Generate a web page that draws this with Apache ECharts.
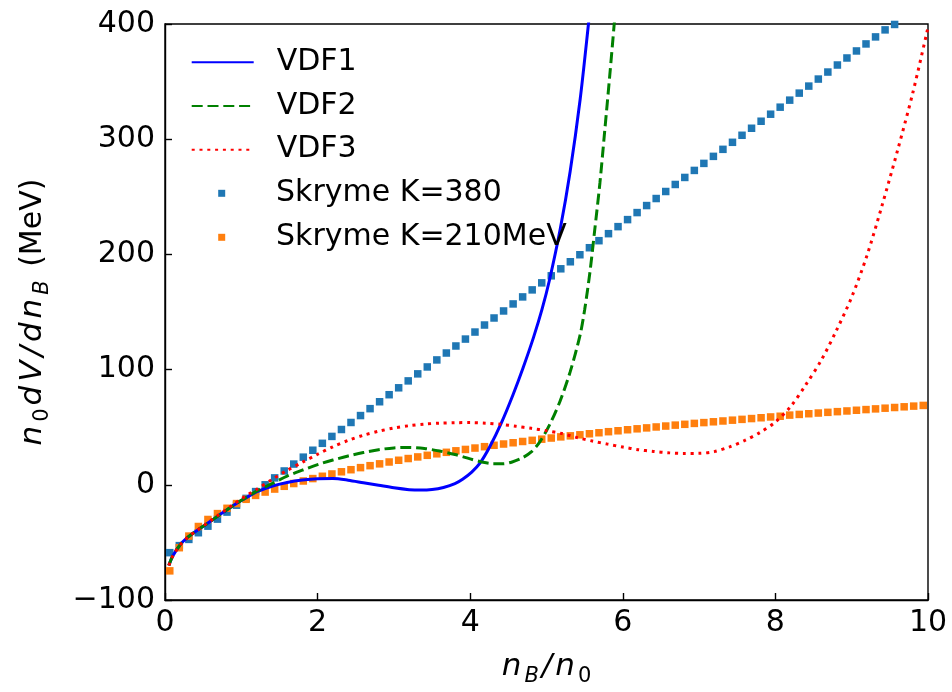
<!DOCTYPE html>
<html>
<head>
<meta charset="utf-8">
<script src="https://cdn.jsdelivr.net/npm/echarts@6/dist/echarts.min.js"></script>
<style>
html,body{margin:0;padding:0;background:#fff;}
#chart{width:952px;height:692px;}
</style>
</head>
<body>
<div id="chart"></div>
<script>
// ---- data ----
var xTicks = [0, 2, 4, 6, 8, 10];
var yTicks = [-100, 0, 100, 200, 300, 400];

var vdf1X = [0.05,0.1,0.2,0.3,0.4,0.5,0.6,0.7,0.8,0.9,1.0,1.1,1.2,1.4,1.6,1.8,2.0,2.2,2.4,2.6,2.8,3.0,3.2,3.35,3.5,3.65,3.8,3.9,4.02,4.13,4.26,4.41,4.56,4.69,4.83,4.94,5.04,5.18,5.31,5.44,5.55,5.6];
var vdf1Y = [-70,-62,-52,-45.5,-40.5,-36,-31.5,-26.8,-22.3,-17.8,-13.7,-9.8,-6.2,-1.3,2,4.2,5.3,5.4,4,1.8,-0.4,-2.6,-4.2,-4.6,-4.1,-2.3,1,4.8,11,19,33.5,54,78,101,128,152,178,222,272,334,400,432];

var vdf2X = [0.05,0.1,0.2,0.3,0.4,0.5,0.6,0.7,0.8,0.9,1.0,1.1,1.2,1.4,1.6,1.8,2.0,2.2,2.4,2.6,2.8,3.0,3.2,3.4,3.6,3.8,4.0,4.17,4.3,4.43,4.55,4.69,4.8,4.91,5.04,5.18,5.31,5.44,5.5,5.57,5.63,5.7,5.76,5.83,5.89,5.93];
var vdf2Y = [-70,-62,-52,-45.5,-40.5,-36,-31.5,-26.8,-22.3,-17.8,-13.5,-9.5,-5.5,1,7.5,12.7,17.5,21.5,25,28,30.5,32,32.4,31.5,29.3,26.3,22.5,19.5,18.3,18.3,19.8,23.6,28.5,37,52,73,98,130,152,185,220,262,305,356,402,435];

var vdf3X = [0.05,0.1,0.2,0.3,0.4,0.5,0.6,0.7,0.8,0.9,1.0,1.1,1.2,1.4,1.6,1.8,2.0,2.2,2.4,2.6,2.8,3.0,3.2,3.4,3.6,3.8,4.0,4.2,4.4,4.6,4.8,5.0,5.2,5.4,5.6,5.8,6.0,6.2,6.4,6.6,6.8,7.0,7.2,7.4,7.6,7.8,8.0,8.2,8.4,8.6,8.8,9.0,9.2,9.4,9.6,9.8,10.0];
var vdf3Y = [-70,-62,-52,-45.5,-40.5,-35.8,-31,-26.2,-21.5,-16.8,-12.3,-8,-4,4.5,12.5,19.5,26.5,33,38.5,43,46.5,49.3,51.3,52.7,53.5,53.9,54,53.5,52.5,50.8,49,47,44.5,41,38,35.3,32.8,30.5,29,27.8,27.2,27.3,28.8,33,38.5,45.5,54.5,68,87,108,134,163,199,243,290,340,397];

var skyX = [0.0625,0.1875,0.3125,0.4375,0.5625,0.6875,0.8125,0.9375,1.0625,1.1875,1.3125,1.4375,1.5625,1.6875,1.8125,1.9375,2.0625,2.1875,2.3125,2.4375,2.5625,2.6875,2.8125,2.9375,3.0625,3.1875,3.3125,3.4375,3.5625,3.6875,3.8125,3.9375,4.0625,4.1875,4.3125,4.4375,4.5625,4.6875,4.8125,4.9375,5.0625,5.1875,5.3125,5.4375,5.5625,5.6875,5.8125,5.9375,6.0625,6.1875,6.3125,6.4375,6.5625,6.6875,6.8125,6.9375,7.0625,7.1875,7.3125,7.4375,7.5625,7.6875,7.8125,7.9375,8.0625,8.1875,8.3125,8.4375,8.5625,8.6875,8.8125,8.9375,9.0625,9.1875,9.3125,9.4375,9.5625,9.6875,9.8125,9.9375];

var sky380Y = [-58.9,-52.8,-47.4,-41.6,-35.9,-29.8,-23.7,-17.7,-11.8,-5.9,0,6,12,18,24,30,36,42,48,54.1,60.1,66.1,72.1,78.2,84.2,90.2,96.3,102.3,108.4,114.4,120.5,126.5,132.6,138.7,144.8,150.9,157,163.1,169.2,175.3,181.4,187.5,193.6,199.7,205.8,211.9,218,224.1,230.2,236.3,242.4,248.5,254.6,260.7,266.8,272.9,279,285.1,291.2,297.3,303.4,309.5,315.6,321.7,327.8,333.9,340,346.1,352.2,358.3,364.4,370.5,376.6,382.7,388.8,394.9,399.6,407.1,413.2,419.3];

var sky210Y = [-74.7,-54.6,-44.5,-36.2,-30.1,-25,-20.4,-16.3,-12.6,-9.2,-6.3,-3.7,-1.3,1.1,3.3,5.4,7.4,9.4,11.3,13.1,14.9,16.6,18.2,19.8,21.3,22.8,24.2,25.6,26.9,28.2,29.5,30.7,31.9,33.1,34.3,35.4,36.5,37.6,38.6,39.6,40.6,41.6,42.5,43.4,44.3,45.2,46.1,46.9,47.8,48.6,49.4,50.2,51.0,51.8,52.5,53.3,54.0,54.7,55.4,56.1,56.8,57.5,58.2,58.9,59.5,60.5,61.1,61.7,62.3,62.9,63.5,64.1,64.7,65.3,65.9,66.5,67.1,67.7,68.3,68.9];

var names = ['VDF1', 'VDF2', 'VDF3', 'Skryme K=380', 'Skryme K=210MeV'];

function zip(xs, ys) { return xs.map(function (x, i) { return [x, ys[i]]; }); }

var FONT = 'DejaVu Sans';
var LW = 3;
var chart = echarts.init(document.getElementById('chart'), null, {renderer: 'canvas'});

var mainTok = {fontFamily: FONT, fontStyle: 'italic', fontSize: 31, lineHeight: 40, color: '#000', verticalAlign: 'middle'};
function withPad(base, p) { var o = {}; for (var k in base) o[k] = base[k]; o.padding = [0, p, 0, 0]; return o; }
var subItal = {fontFamily: FONT, fontStyle: 'italic', fontSize: 21, lineHeight: 21, color: '#000', verticalAlign: 'bottom'};
var subRom = {fontFamily: FONT, fontStyle: 'normal', fontSize: 21, lineHeight: 21, color: '#000', verticalAlign: 'bottom'};
var rom = {fontFamily: FONT, fontStyle: 'normal', fontSize: 30, lineHeight: 40, color: '#000', verticalAlign: 'middle'};

var option = {
  animation: false,
  backgroundColor: '#fff',
  grid: {left: 165, right: 24, top: 24, bottom: 85, show: true, borderColor: '#000', borderWidth: 1.4, backgroundColor: 'transparent'},
  xAxis: {
    type: 'value', min: 0, max: 10, interval: 2,
    name: '{i|n}{s|B}{i|/}{i|n}{t|0}',
    nameLocation: 'middle', nameGap: 47,
    nameTextStyle: {rich: {i: withPad(mainTok, 3), s: withPad(subItal, 3), t: withPad(subRom, 0)}},
    axisLine: {show: true, onZero: false, lineStyle: {color: '#000', width: 1.4}},
    axisTick: {show: true, inside: true, length: 7, lineStyle: {color: '#000', width: 1.4}},
    axisLabel: {fontFamily: FONT, fontSize: 30, color: '#000', margin: 8},
    splitLine: {show: false}
  },
  yAxis: {
    type: 'value', min: -100, max: 400, interval: 100,
    name: '{i|n}{t|0}{i|d}{i|V}{i|/}{i|d}{i|n}{s|B}{r| (MeV)}',
    nameLocation: 'middle', nameRotate: 90, nameGap: 112,
    nameTextStyle: {rich: {i: withPad(mainTok, 4), s: withPad(subItal, 4), t: withPad(subRom, 3), r: rom}},
    axisLine: {show: true, onZero: false, lineStyle: {color: '#000', width: 1.4}},
    axisTick: {show: true, inside: true, length: 7, lineStyle: {color: '#000', width: 1.4}},
    axisLabel: {fontFamily: FONT, fontSize: 30, color: '#000', margin: 10,
      formatter: function (v) { return v < 0 ? '\u2212' + Math.abs(v) : String(v); }},
    splitLine: {show: false}
  },
  legend: [
    {
      data: names.slice(0, 3), orient: 'vertical', left: 190.7, top: 47.3, padding: 0,
      itemWidth: 62, itemHeight: 14, itemGap: 13.7, selectedMode: false,
      itemStyle: {opacity: 0},
      textStyle: {fontFamily: FONT, fontSize: 30, color: '#000', lineHeight: 30, padding: [0, 0, 0, 18]}
    },
    {
      data: names.slice(3), orient: 'vertical', left: 218.2, top: 178.3, padding: 0,
      itemWidth: 7, itemHeight: 7, itemGap: 14, icon: 'rect', selectedMode: false,
      textStyle: {fontFamily: FONT, fontSize: 30, color: '#000', lineHeight: 30, padding: [0, 0, 0, 45.8]}
    }
  ],
  series: [
    {name: names[0], type: 'line', data: zip(vdf1X, vdf1Y), symbol: 'none', smooth: 0.3, clip: true,
     lineStyle: {color: '#0000ff', width: LW, type: 'solid'}, itemStyle: {color: '#0000ff'}},
    {name: names[1], type: 'line', data: zip(vdf2X, vdf2Y), symbol: 'none', smooth: 0.3, clip: true,
     lineStyle: {color: '#008000', width: LW, type: [11, 4.8], cap: 'butt'}, itemStyle: {color: '#008000'}},
    {name: names[2], type: 'line', data: zip(vdf3X, vdf3Y), symbol: 'none', smooth: 0.3, clip: true,
     lineStyle: {color: '#ff0000', width: LW, type: [3, 4.8], cap: 'butt'}, itemStyle: {color: '#ff0000'}},
    {name: names[3], type: 'scatter', data: zip(skyX, sky380Y), symbol: 'rect', symbolSize: 7.5, clip: true,
     itemStyle: {color: '#1f77b4', opacity: 1}},
    {name: names[4], type: 'scatter', data: zip(skyX, sky210Y), symbol: 'rect', symbolSize: 7.5, clip: true,
     itemStyle: {color: '#ff7f0e', opacity: 1}}
  ]
};
chart.setOption(option);
</script>
</body>
</html>
